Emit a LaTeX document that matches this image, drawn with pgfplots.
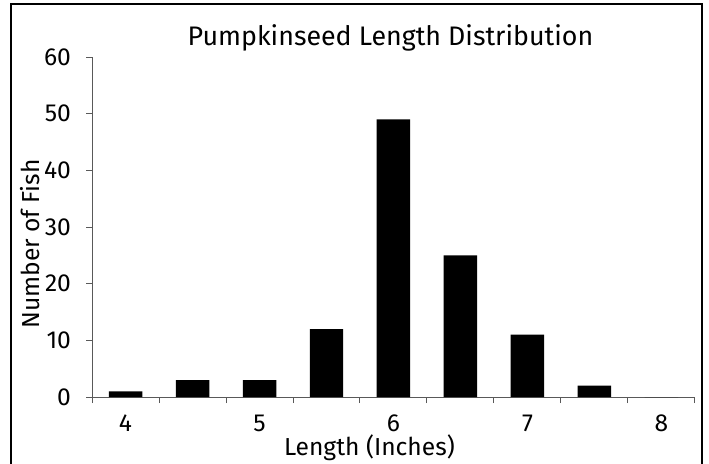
\documentclass[border=0pt]{standalone}
\usepackage{fontspec}
\setmainfont{Fira Sans}
\usepackage{pgfplots}
\pgfplotsset{compat=1.18}
\begin{document}
\begin{tikzpicture}
\useasboundingbox (0,0) rectangle (354.5pt,231.5pt);
\clip (0,0) rectangle (354.5pt,231.5pt);
\draw[black, line width=0.6pt] (5.5pt,-5pt) rectangle (351pt,229.5pt);
\begin{axis}[
  at={(46pt,33pt)}, anchor=south west,
  scale only axis, width=301.5pt, height=170pt,
  xmin=3.75, xmax=8.25, ymin=0, ymax=60,
  axis x line*=bottom, axis y line*=left,
  axis line style={black!65, line width=0.5pt},
  tick style={black!65, line width=0.5pt},
  tick align=outside, major tick length=3pt,
  xtick={3.75,4.25,4.75,5.25,5.75,6.25,6.75,7.25,7.75,8.25},
  xticklabels={},
  extra x ticks={4,5,6,7,8},
  extra x tick labels={4,5,6,7,8},
  extra x tick style={major tick length=0pt},
  ytick={0,10,20,30,40,50,60},
  /pgf/number format/assume math mode=true,
  tick label style={font=\fontsize{12.3}{14}\selectfont},
  xticklabel style={yshift=-5.6pt},
  yticklabel style={xshift=-4pt},
  label style={font=\fontsize{12.3}{14}\selectfont},
  xlabel={Length (Inches)},
  xlabel style={at={(axis description cs:0.460,-0.171)}, anchor=base},
  ylabel={Number of Fish},
  ylabel style={at={(axis description cs:-0.103,0.45)}, anchor=center, rotate=0},
  every axis title shift=0pt,
  title={Pumpkinseed Length Distribution},
  title style={at={(axis description cs:0.495,1.035)}, anchor=base, font=\fontsize{13.4}{15}\selectfont},
  ybar, bar width=0.25,
  clip=false,
]
\addplot[fill=black, draw=none] coordinates {
  (4,1) (4.5,3) (5,3) (5.5,12) (6,49) (6.5,25) (7,11) (7.5,2) (8,0)
};
\end{axis}
\end{tikzpicture}
\end{document}
